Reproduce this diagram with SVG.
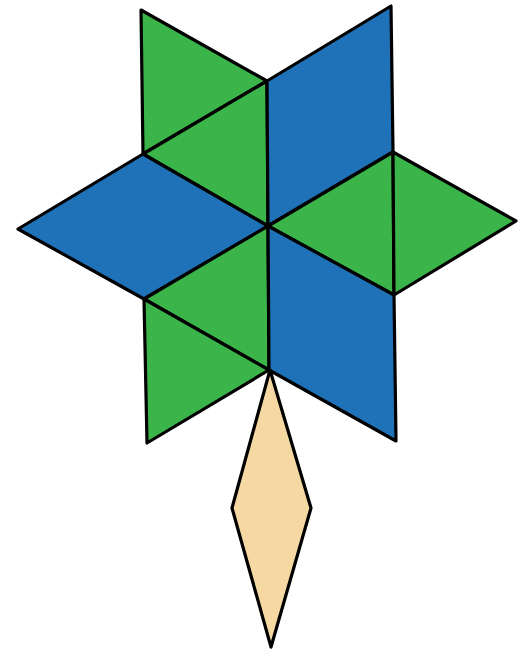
<svg xmlns="http://www.w3.org/2000/svg" width="518" height="652" viewBox="0 0 518 652">
<style>
.s{stroke:#000;stroke-width:3.2;stroke-linejoin:round}
.g{fill:#3BB54A}
.b{fill:#1F72B8}
.t{fill:#F6D8A2}
</style>
<rect width="518" height="652" fill="#fff"/>
<g id="shapes">
<polygon id="tri1" class="s g" points="141,10 267,81 143,154"/>
<polygon id="tri2" class="s g" points="267,81 143,154 268,226"/>
<polygon id="rhombus1" class="s b" points="267,81 391,6 393,152 268,226"/>
<polygon id="rhombus2" class="s b" points="143,154 268,226 144,299 18,229"/>
<polygon id="tri3" class="s g" points="393,152 268,226 394,295"/>
<polygon id="tri4" class="s g" points="393,152 516,221 394,295"/>
<polygon id="tri5" class="s g" points="268,226 144,299 269,370"/>
<polygon id="tri6" class="s g" points="144,299 269,370 147,443"/>
<polygon id="rhombus3" class="s b" points="268,226 394,295 396,441 269,370"/>
<polygon id="tan" class="s t" points="270,370 311,508 271,647 232,508"/>
</g>
</svg>
